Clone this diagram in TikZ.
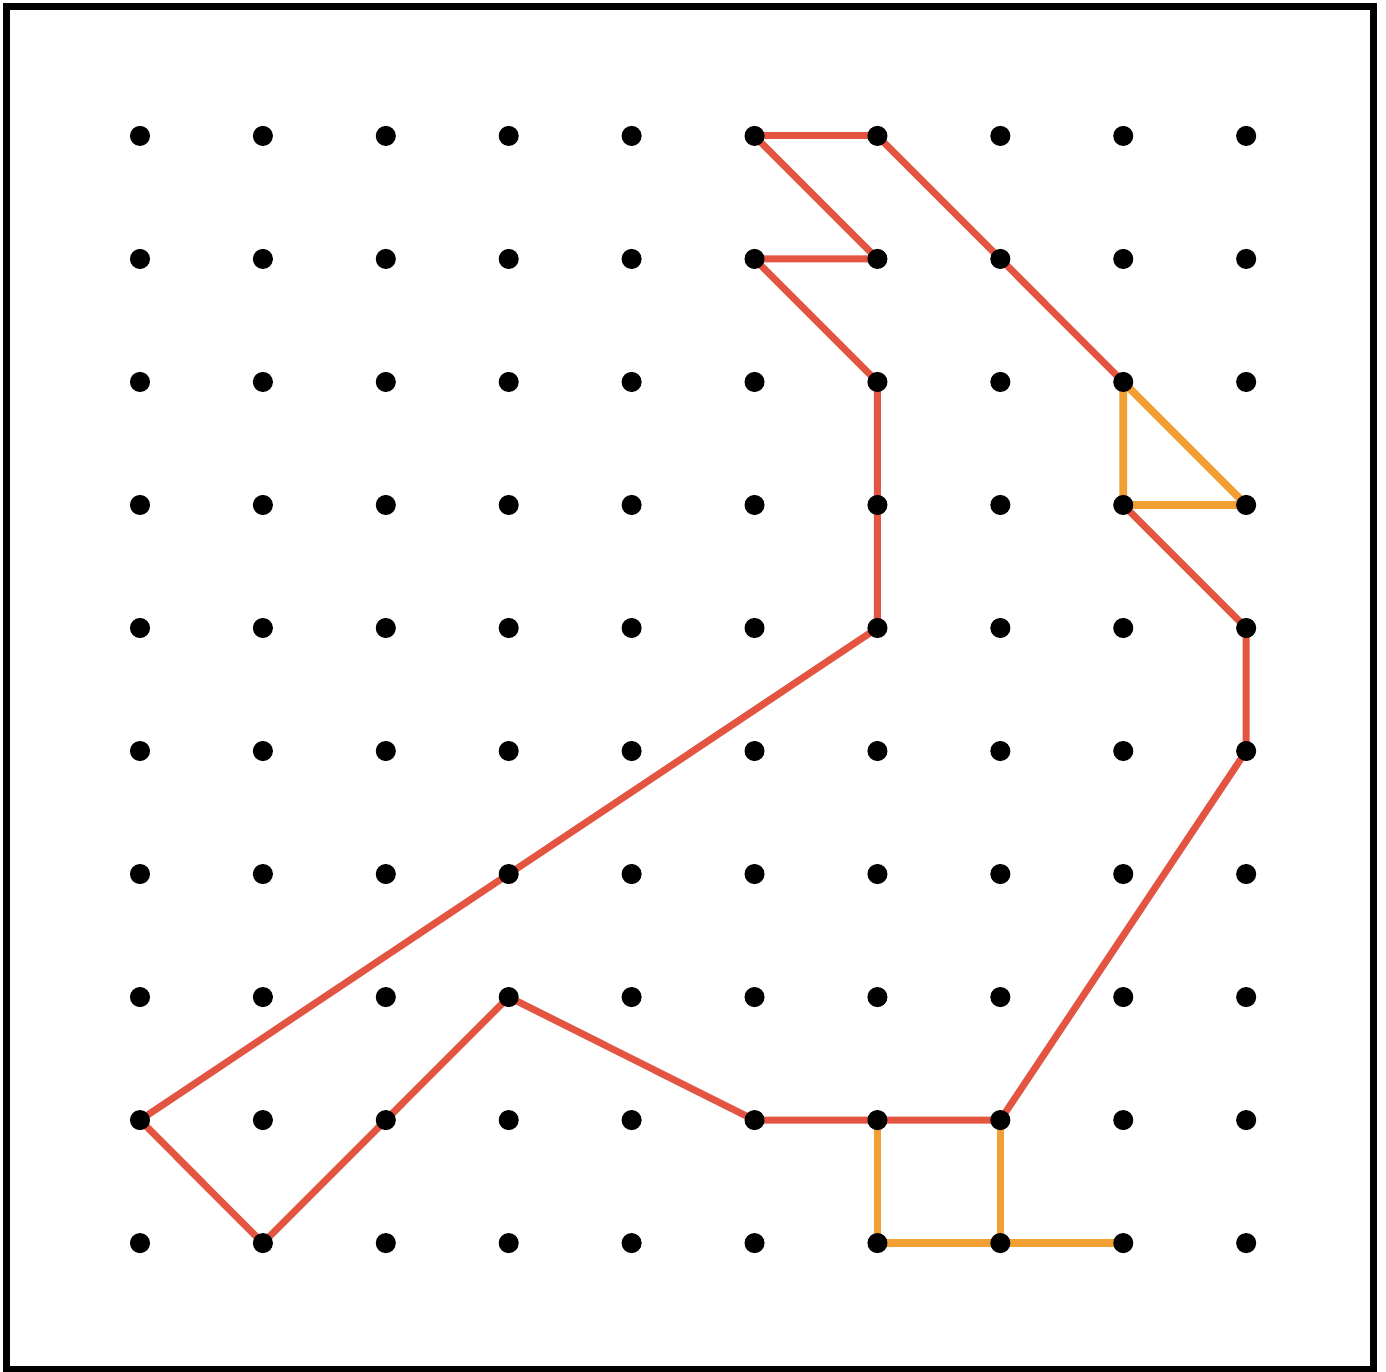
\documentclass[tikz,border=0pt]{standalone}
\usepackage{tikz}
\definecolor{birdred}{HTML}{E35541}
\definecolor{birdorange}{HTML}{F2A033}

\begin{document}
\begin{tikzpicture}[scale=1,
	peg/.style={circle, fill=black, inner sep=0pt, minimum size=0.163cm},
	redline/.style={birdred, line width=1.6pt, line join=round},
	orangeline/.style={birdorange, line width=1.75pt, line join=round}]
					\useasboundingbox (-1.139,1.106) rectangle (10.138,-10.057);
					\draw[line width=1.6pt] (-1.086,1.053) rectangle (10.037,-10.04);
					\def\dx{1}
					\def\dy{1.0009}
					\foreach \i in {0,...,9}{
						\foreach \j in {0,...,9}{
							\coordinate (p-\i-\j) at (\i*\dx,-\j*\dy);
						}
					}
					\draw[orangeline] (p-8-2) -- (p-8-3) -- (p-9-3) -- cycle;
					\draw[orangeline] (p-6-8) -- (p-6-9) -- (p-8-9);
					\draw[orangeline] (p-7-8) -- (p-7-9);
					\draw[redline] (p-5-0) -- (p-6-0);
					\draw[redline] (p-5-0) -- (p-6-1) -- (p-5-1) -- (p-6-2) -- (p-6-3) -- (p-6-4) -- (p-3-6) -- (p-0-8) -- (p-1-9) -- (p-2-8) -- (p-3-7) -- (p-5-8) -- (p-6-8) -- (p-7-8) -- (p-9-5) -- (p-9-4) -- (p-8-3);
					\draw[redline] (p-6-0) -- (p-7-1) -- (p-8-2);
					\foreach \i in {0,...,9}{
						\foreach \j in {0,...,9}{
							\node[peg] (d-\i-\j) at (p-\i-\j) {};
						}
					}
				\end{tikzpicture}
\end{document}
